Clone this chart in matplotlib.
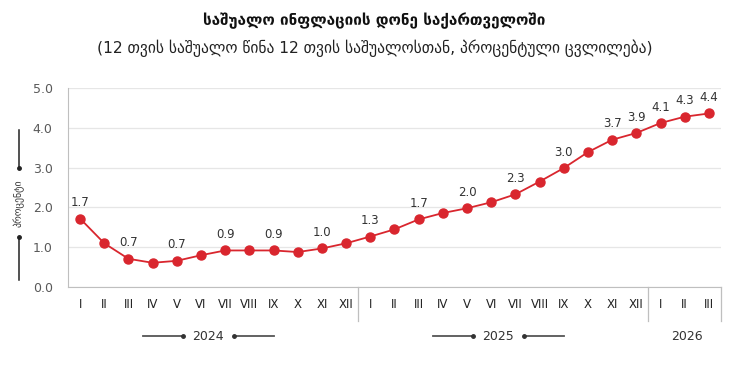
import numpy as np
import matplotlib
matplotlib.use("Agg")
import matplotlib.pyplot as plt
import matplotlib.transforms as mtransforms
from matplotlib.lines import Line2D

plt.rcParams["font.family"] = ["DejaVu Sans"]

# ---- data -----------------------------------------------------------------
months = ["I", "II", "III", "IV", "V", "VI", "VII", "VIII", "IX", "X", "XI", "XII",
          "I", "II", "III", "IV", "V", "VI", "VII", "VIII", "IX", "X", "XI", "XII",
          "I", "II", "III"]
years = ["2024", "2025", "2026"]
inflation = [1.72, 1.10, 0.71, 0.61, 0.66, 0.80, 0.92, 0.92, 0.92, 0.88, 0.97, 1.10,
             1.27, 1.45, 1.70, 1.86, 1.98, 2.13, 2.33, 2.65, 2.99, 3.39, 3.70, 3.87,
             4.12, 4.28, 4.36]
labelled = [0, 2, 4, 6, 8, 10, 12, 14, 16, 18, 20, 22, 23, 24, 25, 26]

title = "საშუალო ინფლაციის დონე საქართველოში"
subtitle = "(12 თვის საშუალო წინა 12 თვის საშუალოსთან, პროცენტული ცვლილება)"
ylabel = "პროცენტი"

RED = "#d9262e"
GRID = "#e6e6e6"
AXIS = "#bfbfbf"

fig = plt.figure(figsize=(7.49, 3.69), dpi=100)
ax = fig.add_axes([0.0908, 0.222, 0.8718, 0.5395])

x = np.arange(len(inflation))
ax.plot(x, inflation, color=RED, lw=1.3, marker="o", ms=6.5, zorder=3)
for i in labelled:
    ax.annotate(f"{inflation[i]:.1f}", (x[i], inflation[i]), textcoords="offset points",
                xytext=(0, 11.5), ha="center", va="center", fontsize=8.5, color="#333333")

ax.set_xlim(-0.5, len(inflation) - 0.5)
ax.set_ylim(0, 5)
ax.set_yticks(np.arange(0, 5.1, 1.0))
ax.set_yticklabels([f"{v:.1f}" for v in np.arange(0, 5.1, 1.0)])
ax.tick_params(axis="y", length=0, pad=11, labelsize=9, labelcolor="#595959")
ax.grid(axis="y", color=GRID, lw=0.9)
ax.set_axisbelow(True)
for s in ("top", "right"):
    ax.spines[s].set_visible(False)
ax.spines["left"].set_color(AXIS)
ax.spines["bottom"].set_color(AXIS)

ax.set_xticks(x)
ax.set_xticklabels(months, fontsize=8.5, color="#222222")
ax.tick_params(axis="x", length=0, pad=8)

# category box separators below the axis
trans = mtransforms.blended_transform_factory(ax.transData, ax.transAxes)
for sep in (11.5, 23.5, len(inflation) - 0.5):
    ax.add_line(Line2D([sep, sep], [0, -0.17], transform=trans, color=AXIS,
                       lw=0.9, clip_on=False))

# year labels with small arrow-like decorations
year_pos = [5.3, 17.3, 25.1]
yy = -0.246
for k, (yr, xp) in enumerate(zip(years, year_pos)):
    ax.text(xp, yy, yr, transform=trans, ha="center", va="center", fontsize=9,
            color="#333333")
    if k < 2:
        for a, b in ((-2.7, -1.05), (1.05, 2.7)):
            ax.add_line(Line2D([xp + a, xp + b], [yy, yy], transform=trans,
                               color="#555555", lw=1.3, clip_on=False))
        for d in (-1.05, 1.05):
            ax.add_line(Line2D([xp + d], [yy], transform=trans, marker="o", ms=2.5,
                               color="#333333", clip_on=False))

# y-axis label with vertical decorations (figure coordinates)
H = 369.0
fx = 19 / 749
fig.text(fx, 1 - 203 / H, ylabel, rotation=90, ha="center", va="center",
         fontsize=7, color="#333333")
for y0, y1 in ((130, 168), (237, 280)):
    fig.add_artist(Line2D([fx, fx], [1 - y0 / H, 1 - y1 / H], color="#222222", lw=1.1))
for yd in (168, 237):
    fig.add_artist(Line2D([fx], [1 - yd / H], marker="o", ms=2.5, color="#222222"))

fig.text(0.5, 1 - 21 / H, title, ha="center", va="center", fontsize=11,
         fontweight="bold", color="#111111")
fig.text(0.5, 1 - 48 / H, subtitle, ha="center", va="center", fontsize=11.2,
         color="#222222")

fig.savefig("out.png", dpi=100)
